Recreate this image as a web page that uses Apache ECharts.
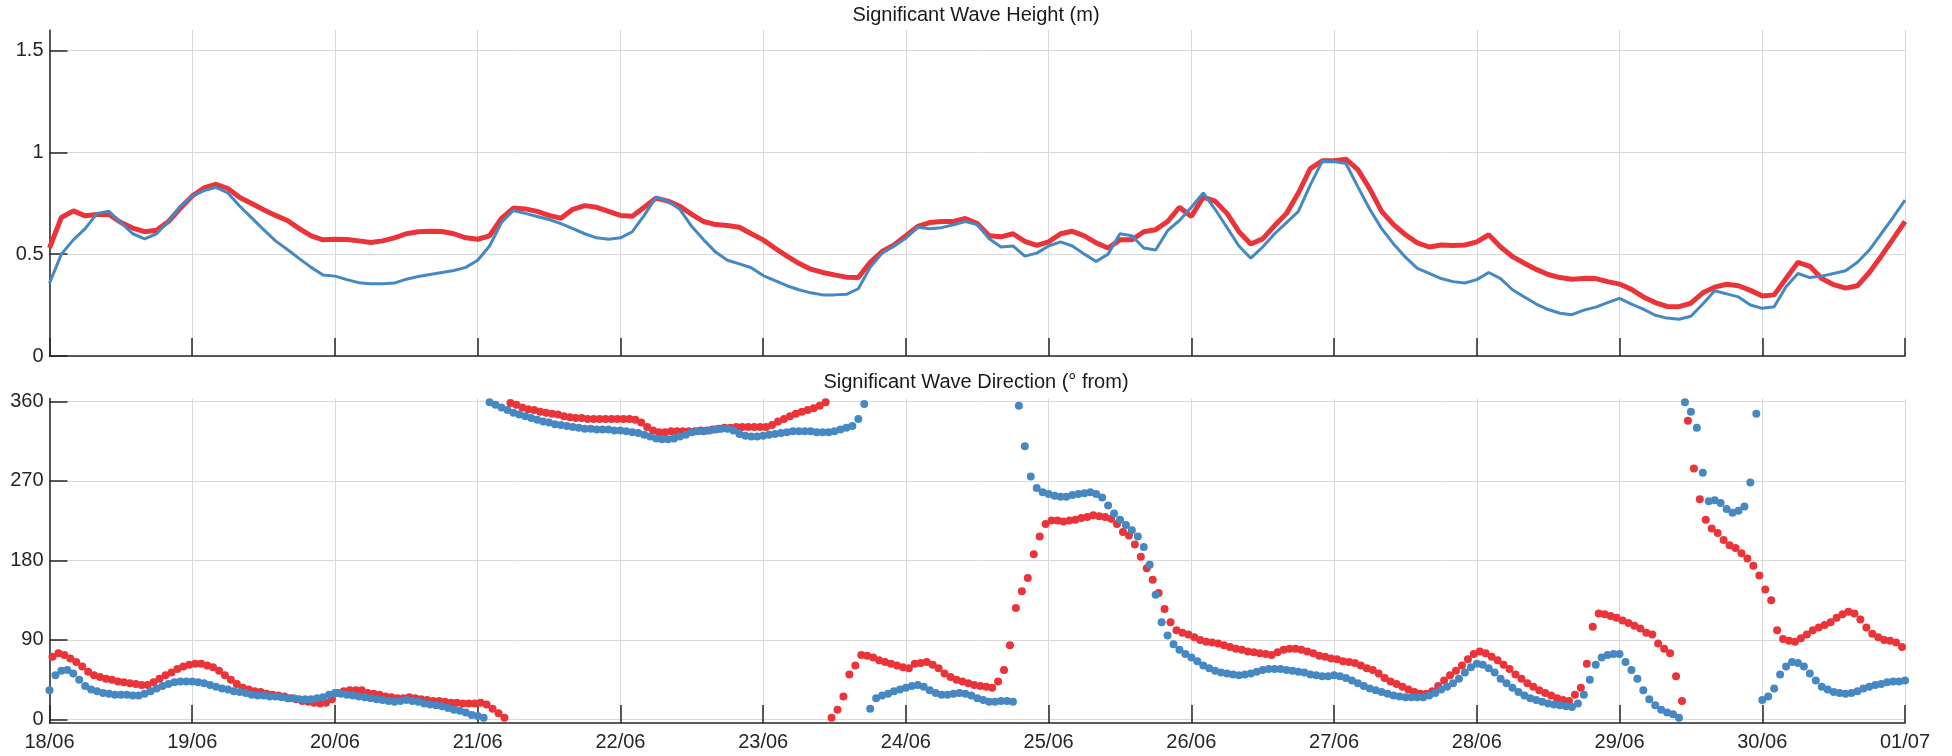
<!DOCTYPE html>
<html>
<head>
<meta charset="utf-8">
<title>Significant Wave Height / Direction</title>
<script src="https://cdn.jsdelivr.net/npm/echarts@6/dist/echarts.min.js"></script>
<style>
  html, body { margin: 0; padding: 0; background: #fff; }
  #chart { width: 1952px; height: 756px; }
</style>
</head>
<body>
<div id="chart"></div>
<script>
// day ticks, one every 24 h starting 18/06 00:00
const dayLabels = ['18/06', '19/06', '20/06', '21/06', '22/06', '23/06', '24/06',
  '25/06', '26/06', '27/06', '28/06', '29/06', '30/06', '01/07']

// wave height (m), one value every 2 hours
const heightStep = 2
const heightRed = [
  0.53, 0.68, 0.712, 0.688, 0.695, 0.695, 0.655, 0.628, 0.61, 0.617, 0.66, 0.725,
  0.785, 0.825, 0.843, 0.822, 0.778, 0.748, 0.718, 0.69, 0.665, 0.625, 0.59, 0.57,
  0.573, 0.572, 0.565, 0.557, 0.565, 0.58, 0.6, 0.61, 0.612, 0.611, 0.6, 0.58,
  0.573, 0.59, 0.675, 0.726, 0.722, 0.71, 0.69, 0.676, 0.72, 0.738, 0.73, 0.71,
  0.69, 0.686, 0.73, 0.775, 0.76, 0.735, 0.695, 0.66, 0.645, 0.64, 0.632, 0.6,
  0.57, 0.529, 0.49, 0.455, 0.426, 0.41, 0.398, 0.387, 0.385, 0.46, 0.513, 0.545,
  0.59, 0.636, 0.655, 0.66, 0.66, 0.675, 0.65, 0.59, 0.585, 0.6, 0.563, 0.543,
  0.56, 0.6, 0.612, 0.59, 0.555, 0.53, 0.57, 0.57, 0.61, 0.62, 0.66, 0.73,
  0.685, 0.78, 0.76, 0.7, 0.61, 0.55, 0.575, 0.64, 0.7, 0.8, 0.92, 0.958,
  0.958, 0.966, 0.915, 0.82, 0.71, 0.645, 0.595, 0.555, 0.535, 0.545, 0.542, 0.545,
  0.56, 0.595, 0.535, 0.488, 0.455, 0.425, 0.4, 0.385, 0.377, 0.381, 0.38, 0.365,
  0.353, 0.327, 0.29, 0.262, 0.243, 0.242, 0.259, 0.31, 0.338, 0.352, 0.345, 0.322,
  0.295, 0.3, 0.38, 0.46, 0.44, 0.38, 0.35, 0.333, 0.345, 0.41, 0.49, 0.575,
  0.66
]
const heightBlue = [
  0.357, 0.5, 0.57, 0.625, 0.7, 0.71, 0.655, 0.6, 0.575, 0.6, 0.66, 0.735,
  0.785, 0.812, 0.828, 0.8, 0.735, 0.678, 0.62, 0.565, 0.523, 0.478, 0.435, 0.397,
  0.392, 0.375, 0.36, 0.355, 0.355, 0.358, 0.377, 0.39, 0.4, 0.41, 0.42, 0.435,
  0.47, 0.54, 0.655, 0.714, 0.7, 0.685, 0.67, 0.65, 0.625, 0.6, 0.58, 0.573,
  0.58, 0.61, 0.69, 0.78, 0.76, 0.72, 0.635, 0.57, 0.51, 0.47, 0.452, 0.433,
  0.395, 0.37, 0.345, 0.325, 0.31, 0.3, 0.3, 0.303, 0.33, 0.435, 0.505, 0.54,
  0.578, 0.632, 0.625, 0.63, 0.644, 0.66, 0.645, 0.575, 0.535, 0.54, 0.49, 0.505,
  0.54, 0.56, 0.54, 0.5, 0.464, 0.5, 0.6, 0.59, 0.53, 0.52, 0.615, 0.665,
  0.73, 0.8, 0.72, 0.63, 0.54, 0.48, 0.535, 0.6, 0.655, 0.71, 0.84, 0.955,
  0.955, 0.945, 0.83, 0.72, 0.625, 0.55, 0.485, 0.43, 0.405, 0.38, 0.365, 0.358,
  0.375, 0.41, 0.38, 0.325, 0.29, 0.255, 0.228, 0.21, 0.203, 0.225, 0.24, 0.262,
  0.283, 0.255, 0.23, 0.2, 0.186, 0.18, 0.195, 0.255, 0.32, 0.305, 0.29, 0.25,
  0.234, 0.242, 0.34, 0.405, 0.385, 0.392, 0.405, 0.418, 0.46, 0.52, 0.6, 0.68,
  0.765
]

// wave direction (deg from), hourly. red is logged on the half hour
const redTimeOffset = 0.5
const dirRed = [
  71, 75, 73, 69, 65, 60, 54, 50, 48, 46, 45, 43,
  42, 41, 40, 39, 39, 42, 46, 50, 53, 57, 60, 62,
  63, 63, 61, 59, 55, 50, 45, 40, 36, 34, 32, 31,
  29, 28, 27, 26, 24, 23, 21, 20, 19, 18, 19, 23,
  30, 32, 33, 33, 33, 30, 29, 28, 26, 25, 24, 24,
  25, 24, 23, 22, 21, 21, 20, 19, 19, 18, 18, 18,
  19, 17, 12, 7, 2, 358, 356, 353, 351, 350, 348, 347,
  346, 345, 343, 342, 341, 341, 340, 340, 340, 340, 340, 340,
  340, 340, 339, 336, 331, 327, 325, 325, 326, 326, 326, 326,
  326, 327, 327, 328, 329, 330, 330, 331, 331, 331, 331, 331,
  331, 333, 337, 340, 343, 346, 348, 350, 352, 355, 359, 2,
  11, 26, 51, 61, 73, 72, 70, 67, 65, 63, 61, 59,
  58, 63, 64, 65, 62, 58, 52, 48, 45, 43, 41, 39,
  38, 37, 36, 43, 56, 84, 126, 145, 160, 187, 207, 221,
  225, 225, 224, 225, 226, 228, 229, 231, 230, 229, 227, 221,
  212, 208, 198, 184, 171, 158, 143, 125, 110, 101, 98, 96,
  93, 90, 88, 87, 86, 84, 82, 80, 79, 77, 76, 75,
  74, 73, 76, 79, 80, 80, 79, 77, 75, 72, 71, 69,
  68, 66, 65, 64, 61, 58, 56, 52, 47, 43, 40, 37,
  34, 31, 29, 29, 32, 38, 44, 50, 55, 61, 68, 74,
  77, 75, 71, 67, 62, 57, 51, 46, 41, 37, 33, 30,
  27, 24, 22, 21, 28, 36, 63, 105, 120, 119, 117, 115,
  112, 109, 106, 103, 98, 96, 86, 80, 75, 49, 21, 338,
  284, 249, 226, 216, 211, 203, 197, 194, 188, 182, 174, 163,
  147, 135, 101, 91, 89, 88, 92, 96, 101, 104, 107, 110,
  115, 119, 122, 120, 113, 104, 97, 93, 90, 89, 87, 82
]
const dirBlue = [
  33, 50, 55, 56, 52, 45, 38, 34, 32, 30, 29, 28,
  28, 28, 27, 27, 29, 32, 35, 38, 40, 42, 43, 43,
  43, 42, 41, 39, 37, 35, 34, 32, 31, 30, 28, 27,
  27, 26, 26, 25, 24, 24, 23, 23, 23, 24, 25, 28,
  30, 29, 28, 27, 26, 25, 24, 23, 22, 21, 20, 21,
  22, 21, 20, 18, 17, 16, 15, 13, 11, 10, 8, 5,
  4, 2, 359, 356, 353, 350, 347, 345, 343, 341, 339, 337,
  336, 334, 333, 332, 331, 330, 329, 329, 328, 328, 328, 327,
  327, 326, 325, 324, 322, 320, 318, 317, 317, 318, 320, 322,
  325, 326, 326, 327, 328, 329, 329, 327, 323, 321, 320, 320,
  321, 322, 323, 324, 325, 326, 326, 326, 326, 325, 325, 325,
  326, 328, 330, 332, 340, 357, 12, 24, 27, 29, 32, 34,
  36, 38, 39, 37, 33, 30, 28, 28, 29, 30, 29, 27,
  24, 22, 20, 20, 21, 21, 20, 355, 309, 275, 262, 257,
  255, 253, 252, 252, 254, 255, 256, 257, 255, 251, 242, 233,
  226, 220, 214, 207, 195, 175, 141, 110, 95, 85, 79, 74,
  70, 66, 61, 58, 55, 53, 52, 51, 50, 51, 52, 54,
  56, 57, 57, 57, 56, 55, 54, 53, 51, 50, 49, 49,
  50, 49, 47, 44, 41, 38, 35, 33, 31, 29, 27, 26,
  25, 25, 25, 25, 27, 30, 34, 37, 41, 46, 53, 59,
  63, 62, 58, 53, 46, 41, 36, 31, 27, 24, 22, 20,
  18, 17, 16, 15, 14, 18, 28, 45, 62, 70, 73, 74,
  74, 65, 56, 46, 33, 23, 16, 11, 8, 6, 2, 359,
  348, 330, 279, 247, 248, 245, 238, 234, 236, 241, 268, 346,
  22, 26, 35, 51, 60, 65, 64, 60, 52, 44, 37, 34,
  31, 30, 29, 30, 32, 35, 37, 39, 40, 42, 43, 43,
  44
]
const heightTicks = [0, 0.5, 1, 1.5]
const dirTicks = [0, 90, 180, 270, 360]

const RED = '#EA3439'
const BLUE = '#4688C2'
const INK = '#262626'
const GRID = '#d9d9d9'
const FONT = "'Liberation Sans', Arial, sans-serif"

const lastHour = (dayLabels.length - 1) * 24

const xAxisBase = (gridIndex, showLabels) => ({
  type: 'value',
  gridIndex,
  min: 0,
  max: lastHour,
  interval: 24,
  axisLine: { show: true, onZero: false, lineStyle: { color: INK, width: 1.5 } },
  axisTick: { show: true, inside: true, length: 18, lineStyle: { color: INK, width: 1.5 } },
  splitLine: { show: true, lineStyle: { color: GRID, width: 1 } },
  axisLabel: {
    show: showLabels,
    showMinLabel: true,
    showMaxLabel: true,
    margin: 9,
    color: INK,
    fontSize: 20,
    fontFamily: FONT,
    formatter: (v) => dayLabels[Math.round(v / 24)] || '',
  },
})

const yAxisBase = (gridIndex, min, max, ticks) => ({
  type: 'value',
  gridIndex,
  min,
  max,
  axisLine: { show: true, lineStyle: { color: INK, width: 1.5 } },
  axisTick: { show: true, inside: true, length: 18, customValues: ticks, lineStyle: { color: INK, width: 1.5 } },
  splitLine: { show: true, lineStyle: { color: GRID, width: 1 } },
  axisLabel: { customValues: ticks, margin: 6, color: INK, fontSize: 20, fontFamily: FONT },
})

const titleStyle = { color: '#1a1a1a', fontSize: 20, fontWeight: 'normal', fontFamily: FONT }

const chart = echarts.init(document.getElementById('chart'), null, { renderer: 'canvas' })

chart.setOption({
  animation: false,
  backgroundColor: '#ffffff',
  title: [
    { text: 'Significant Wave Height (m)', left: 'center', top: 5, padding: 0, textStyle: titleStyle },
    { text: 'Significant Wave Direction (° from)', left: 'center', top: 372, padding: 0, textStyle: titleStyle },
  ],
  grid: [
    { left: 49.5, right: 47, top: 30, height: 326 },
    { left: 49.5, right: 47, top: 398.6, height: 324.4 },
  ],
  xAxis: [xAxisBase(0, false), xAxisBase(1, true)],
  yAxis: [yAxisBase(0, 0, 1.6, heightTicks), yAxisBase(1, -4, 363, dirTicks)],
  series: [
    {
      name: 'Hs red',
      type: 'line',
      xAxisIndex: 0,
      yAxisIndex: 0,
      showSymbol: false,
      lineStyle: { color: RED, width: 5 },
      data: heightRed.map((v, i) => [i * heightStep, v]),
    },
    {
      name: 'Hs blue',
      type: 'line',
      xAxisIndex: 0,
      yAxisIndex: 0,
      showSymbol: false,
      lineStyle: { color: BLUE, width: 3 },
      data: heightBlue.map((v, i) => [i * heightStep, v]),
    },
    {
      name: 'Dir red',
      type: 'scatter',
      xAxisIndex: 1,
      yAxisIndex: 1,
      symbolSize: 8,
      itemStyle: { color: RED, opacity: 1 },
      data: dirRed.map((v, i) => [i + redTimeOffset, v]),
    },
    {
      name: 'Dir blue',
      type: 'scatter',
      xAxisIndex: 1,
      yAxisIndex: 1,
      symbolSize: 8,
      itemStyle: { color: BLUE, opacity: 1 },
      data: dirBlue.map((v, i) => [i, v]),
    },
  ],
})

window.addEventListener('resize', () => chart.resize())
</script>
</body>
</html>
